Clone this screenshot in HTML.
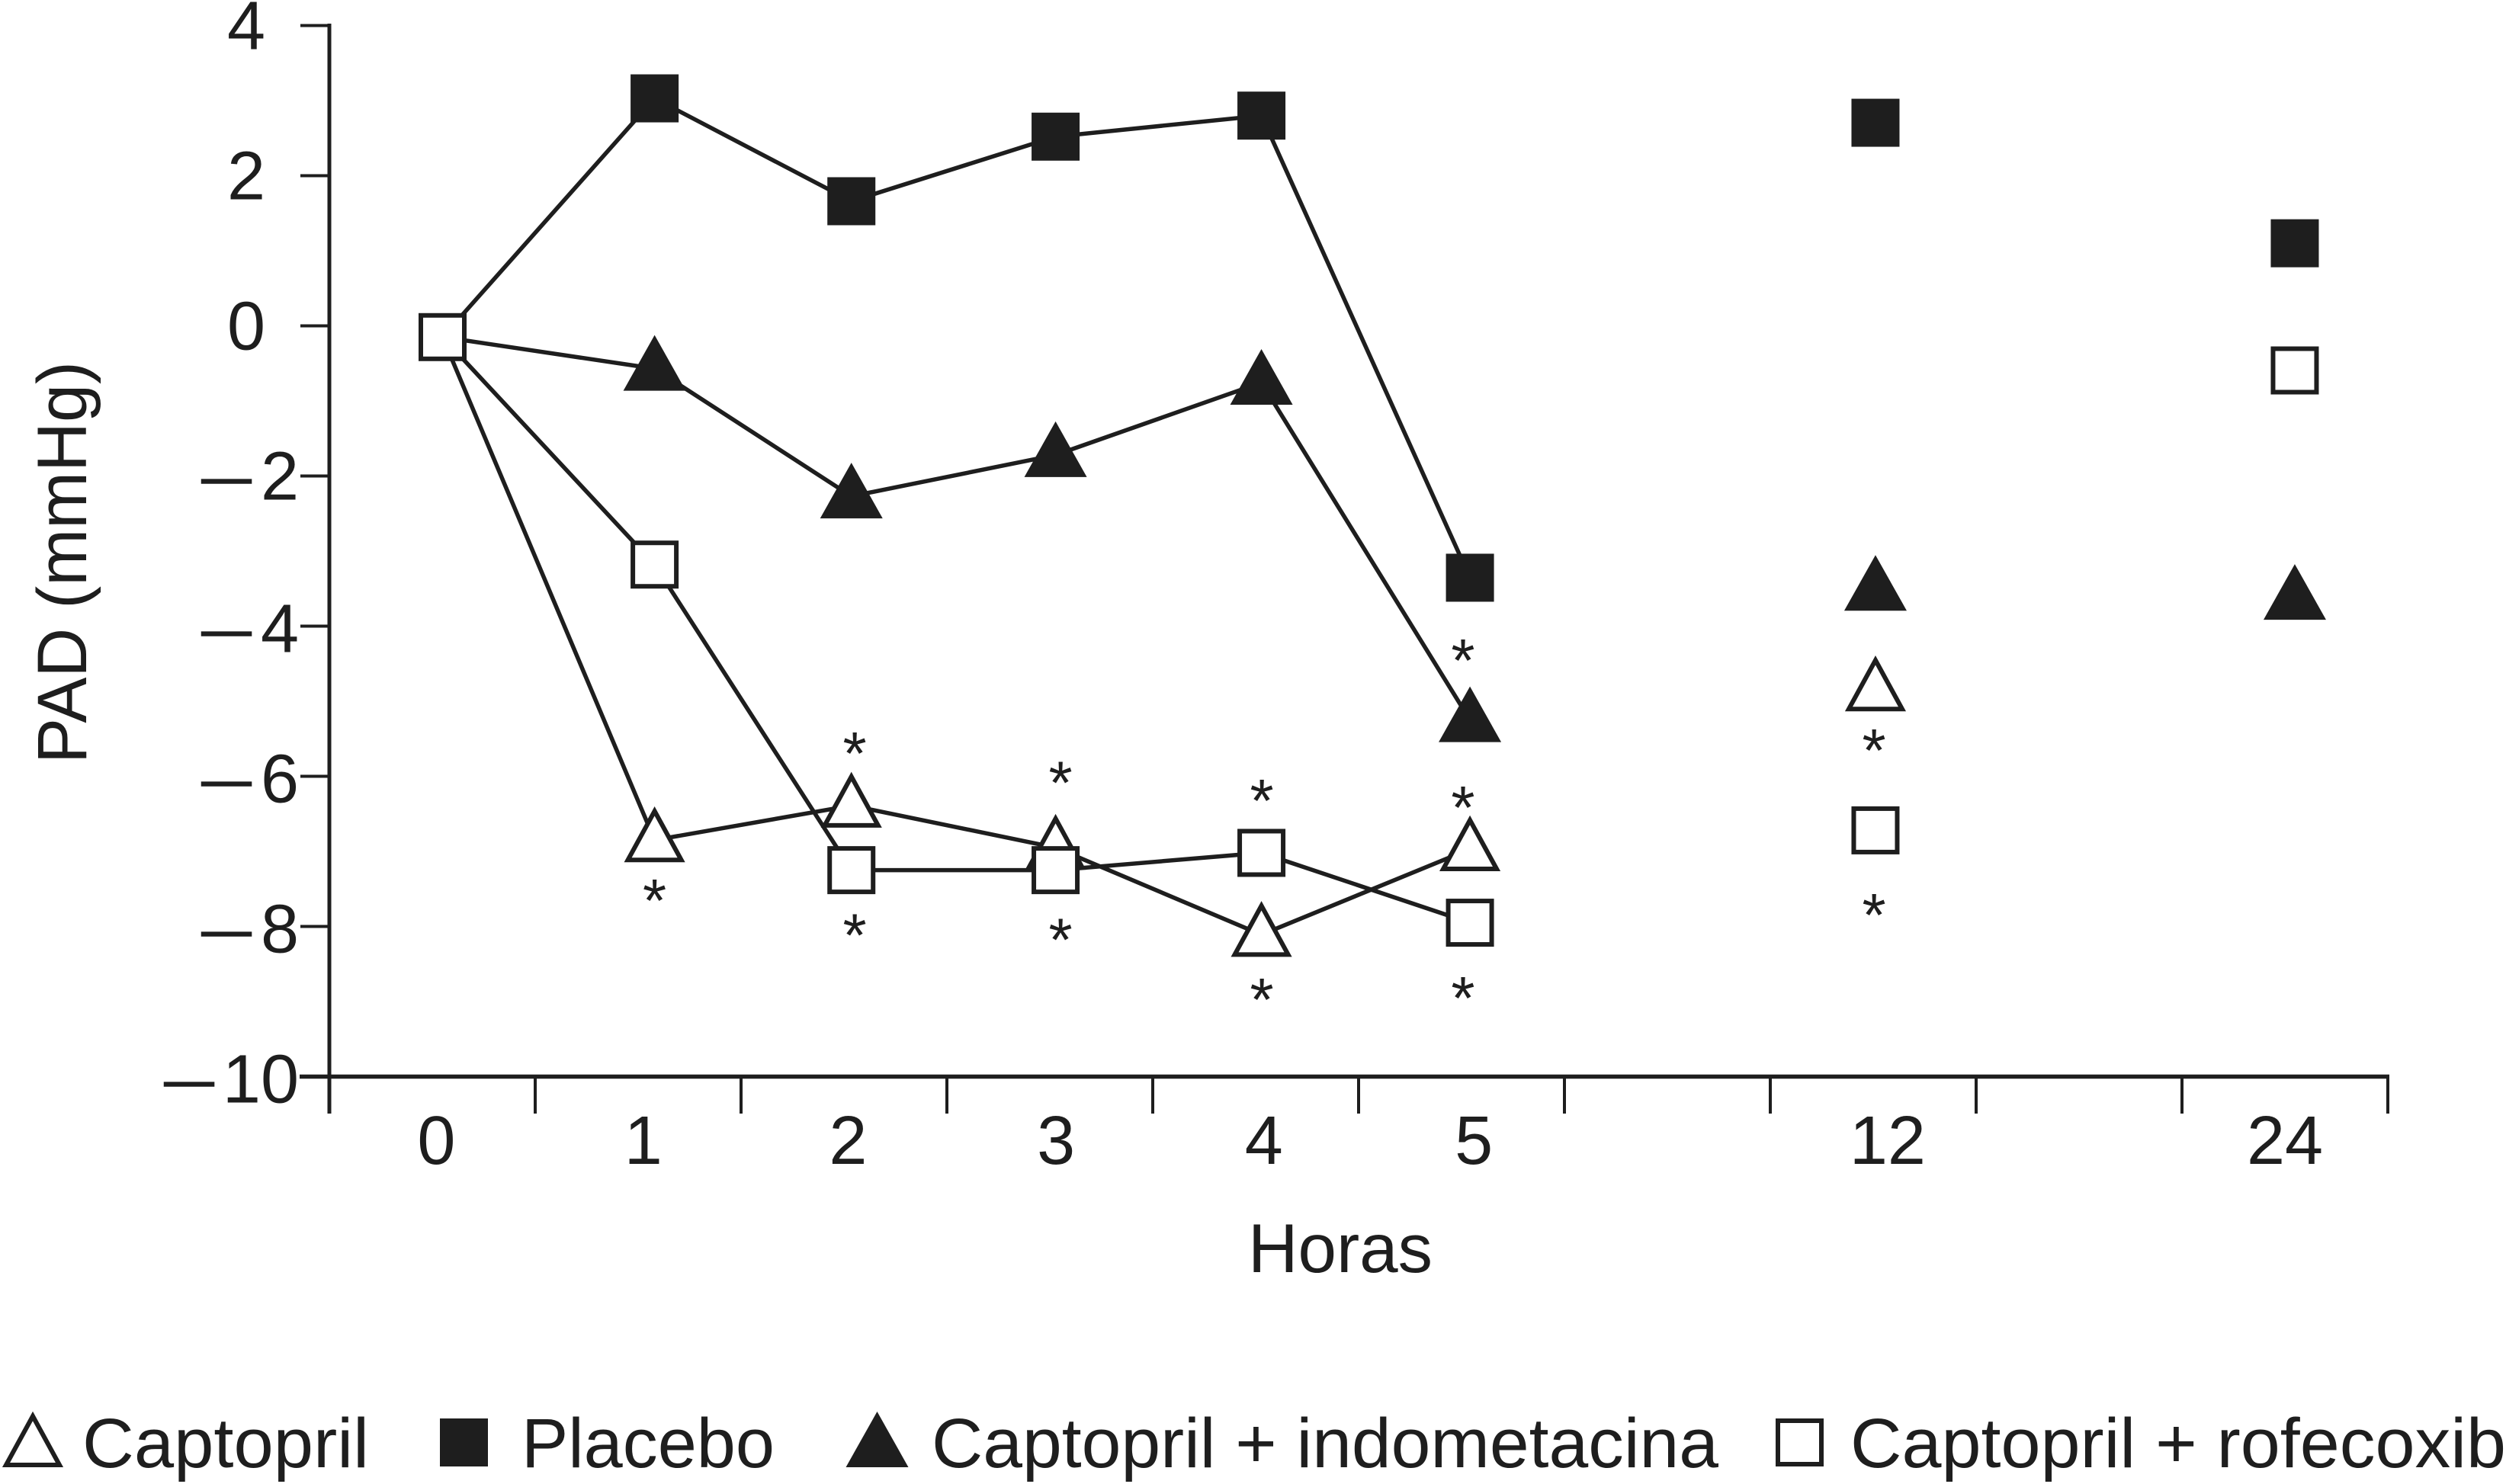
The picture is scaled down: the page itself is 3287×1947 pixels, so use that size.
<!DOCTYPE html>
<html lang="es">
<head>
<meta charset="utf-8">
<title>PAD (mmHg) por horas</title>
<style>
html,body{margin:0;padding:0;background:#fff;}
svg{display:block;}
text{font-family:"Liberation Sans",sans-serif;fill:#1e1e1e;}
</style>
</head>
<body>
<svg id="chart" xmlns="http://www.w3.org/2000/svg" width="3287" height="1947" viewBox="0 0 3287 1947">
  <rect x="0" y="0" width="3287" height="1947" fill="#fff"/>
  <g id="axes"></g>
  <g id="plot"></g>
  <text transform="translate(113,1002) rotate(-90)" font-size="92" textLength="528" lengthAdjust="spacingAndGlyphs">PAD (mmHg)</text>
  <text x="1637" y="1669" font-size="91" textLength="242" lengthAdjust="spacingAndGlyphs">Horas</text>
  <g id="legend">
    <text x="108" y="1925" font-size="92" textLength="376" lengthAdjust="spacingAndGlyphs">Captopril</text>
    <text x="684" y="1925" font-size="92" textLength="332" lengthAdjust="spacingAndGlyphs">Placebo</text>
    <text x="1222" y="1925" font-size="92" textLength="1032" lengthAdjust="spacingAndGlyphs">Captopril + indometacina</text>
    <text x="2427" y="1925" font-size="92" textLength="860" lengthAdjust="spacingAndGlyphs">Captopril + rofecoxib</text>
  </g>
</svg>
<script>
// ---------- chart data ----------
const hourLabels = ['0', '1', '2', '3', '4', '5', '12', '24'];
const hourSlots = [0.55, 1.58, 2.536, 3.528, 4.528, 5.541, 7.511, 9.548];
const labelSlots = [0.52, 1.525, 2.52, 3.53, 4.54, 5.56, 7.57, 9.50];
const yTicks = [4, 2, 0, -2, -4, -6, -8, -10];
const placebo = [-0.15, 3.03, 1.66, 2.52, 2.80, -3.355, 2.705, 1.10];
const indometacina = [-0.15, -0.57, -2.27, -1.72, -0.756, -5.25, -3.50, -3.62];
const captopril = [-0.15, -6.85, -6.39, -6.95, -8.11, -6.97, -4.84, null];
const rofecoxib = [-0.15, -3.18, -7.25, -7.25, -7.02, -7.95, -6.72, -0.594];
const connectedPoints = 6;
const starSlots = [1.58, 2.552, 2.552, 3.552, 3.552, 4.53, 4.53, 5.507, 5.507, 5.507, 7.504, 7.504];
const starValues = [-7.54, -5.58, -8.0, -5.97, -8.06, -6.21, -8.86, -4.34, -6.30, -8.84, -5.54, -7.73];

// ---------- axis functions ----------
const INK = '#1e1e1e';
const NS = 'http://www.w3.org/2000/svg';
function xAt(slot) { return 432 + 270 * slot; }
function yAt(v) { return 427.5 - 98.5 * v; }

function make(parent, tag, attrs, text) {
  const el = document.createElementNS(NS, tag);
  for (const k in attrs) el.setAttribute(k, attrs[k]);
  if (text !== undefined) el.textContent = text;
  parent.appendChild(el);
  return el;
}

function marker(parent, kind, cx, cy) {
  const filled = kind === 'filled-square' || kind === 'filled-triangle';
  const paint = { fill: filled ? INK : '#fff', stroke: filled ? 'none' : INK, 'stroke-width': 6, 'stroke-linejoin': 'miter', 'stroke-miterlimit': 10 };
  if (kind.endsWith('square')) {
    const size = filled ? 63 : 57;
    return make(parent, 'rect', Object.assign({ x: cx - size / 2, y: cy - size / 2, width: size, height: size }, paint));
  }
  const inset = filled ? 0 : 3;
  const up = 44 - (filled ? 0 : 6);
  const down = 29 - inset;
  const half = 41 - (filled ? 0 : 6);
  const pts = [[cx, cy - up], [cx + half, cy + down], [cx - half, cy + down]].map(p => p.join(',')).join(' ');
  return make(parent, 'polygon', Object.assign({ points: pts }, paint));
}

// ---------- axes ----------
const axes = document.getElementById('axes');

const yAxisLine = make(axes, 'line', { x1: 432, y1: yAt(4) - 2.5, x2: 432, y2: 1461, stroke: INK, 'stroke-width': 5 });



const xAxisLine = make(axes, 'line', { x1: 393, y1: yAt(-10), x2: xAt(10) + 2, y2: yAt(-10), stroke: INK, 'stroke-width': 5.5 });



yTicks.forEach(function (v) {
  const tick = make(axes, 'line', { x1: 394, y1: yAt(v), x2: 432, y2: yAt(v), stroke: INK, 'stroke-width': 4 });
  
  

  const neg = v < 0;
  const base = yAt(v) + (v >= -2 ? 31 : 34);
  const digits = String(Math.abs(v));
  const label = make(axes, 'text', { x: neg ? 392 : 348, y: base, 'font-size': 90, 'text-anchor': 'end' }, digits);
  
  
  if (neg) {
    const minus = make(axes, 'text', { x: digits.length > 1 ? 208 : 257, y: base + 6, 'font-size': 90, textLength: 80, lengthAdjust: 'spacingAndGlyphs' }, '\u2212');
    
    
  }
});

for (let i = 0; i <= 10; i++) {
  const tick = make(axes, 'line', { x1: xAt(i), y1: yAt(-10), x2: xAt(i), y2: 1461, stroke: INK, 'stroke-width': 4 });
  
  
}

hourLabels.forEach(function (h, i) {
  const label = make(axes, 'text', { x: xAt(labelSlots[i]), y: 1527, 'font-size': 90, 'text-anchor': 'middle' }, h);
  
  
});

// ---------- series ----------
const plot = document.getElementById('plot');

function drawSeries(name, values, kind, firstMarker) {
  const group = make(plot, 'g', {});
  
  

  const pts = [];
  for (let i = 0; i < connectedPoints; i++) {
    if (values[i] !== null) pts.push(xAt(hourSlots[i]) + ',' + yAt(values[i]));
  }
  const line = make(group, 'polyline', { points: pts.join(' '), fill: 'none', stroke: INK, 'stroke-width': 5.5, 'stroke-linejoin': 'round' });
  
  

  values.forEach(function (v, i) {
    if (v === null || i < firstMarker) return;
    const point = marker(group, kind, xAt(hourSlots[i]), yAt(v));
    
    
  });
}

drawSeries('placebo', placebo, 'filled-square', 1);
drawSeries('captopril-indometacina', indometacina, 'filled-triangle', 1);
drawSeries('captopril', captopril, 'open-triangle', 1);
drawSeries('captopril-rofecoxib', rofecoxib, 'open-square', 0);

// ---------- significance asterisks ----------
starSlots.forEach(function (slot, i) {
  const star = make(plot, 'text', { x: xAt(slot), y: yAt(starValues[i]) + 39, 'font-size': 80, 'text-anchor': 'middle' }, '*');
  
  
});

// ---------- legend swatches ----------
const legend = document.getElementById('legend');

const swatchCaptopril = marker(legend, 'open-triangle', 43, 1896);



const swatchPlacebo = marker(legend, 'filled-square', 608.5, 1892.5);



const swatchIndometacina = marker(legend, 'filled-triangle', 1150.5, 1896);



const swatchRofecoxib = marker(legend, 'open-square', 2360.5, 1892.5);


</script>
</body>
</html>
